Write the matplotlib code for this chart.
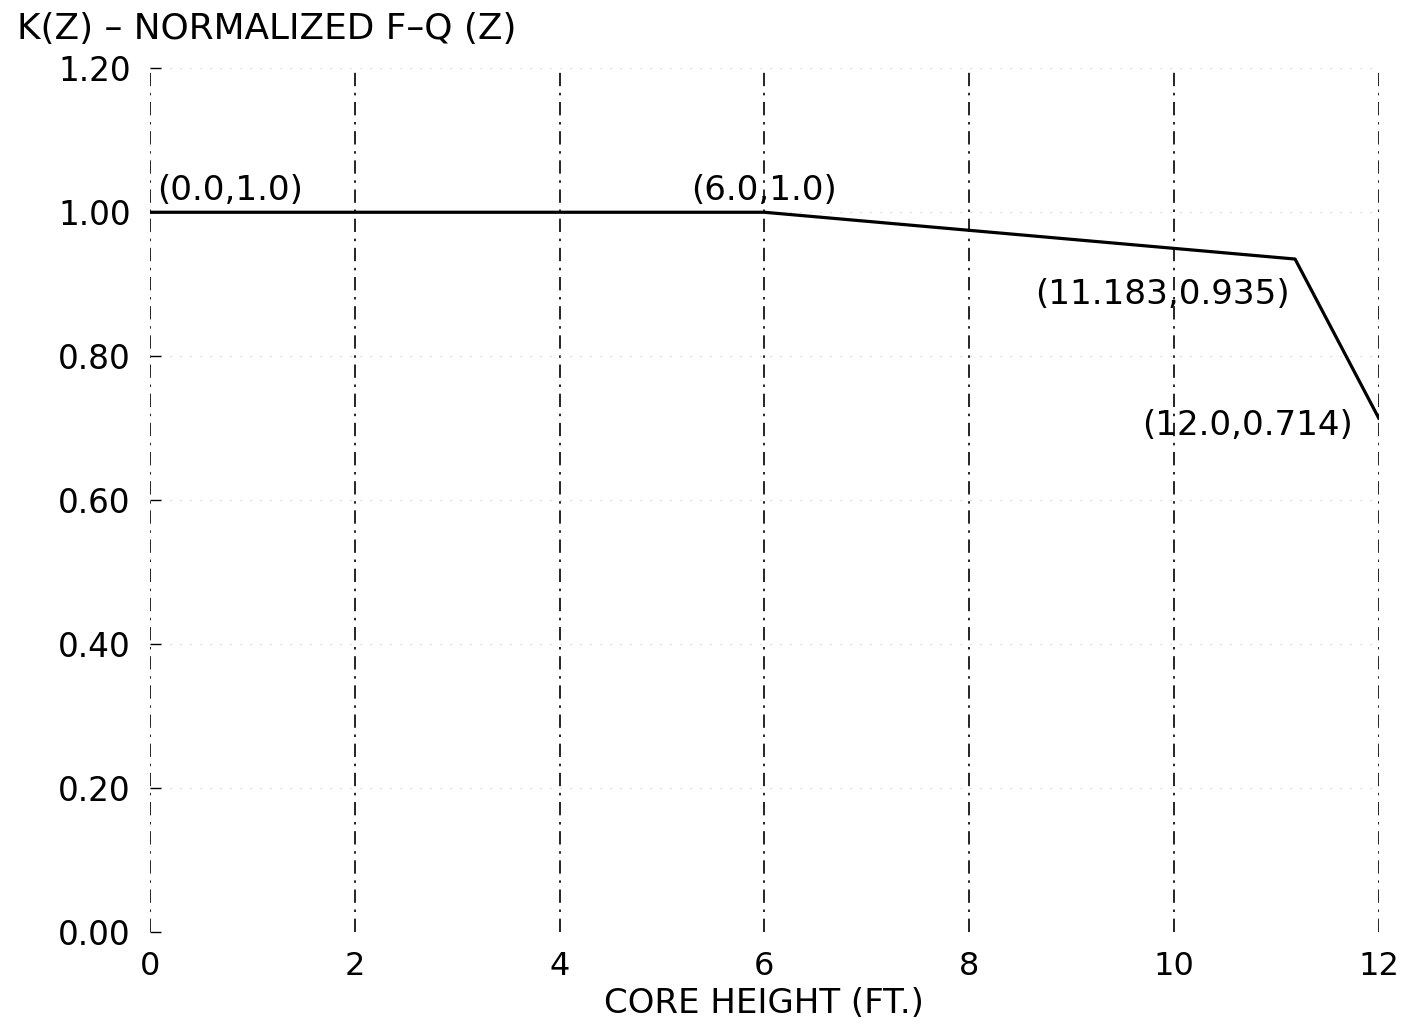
import matplotlib.pyplot as plt

# K(Z) curve breakpoints
core_height = [0.0, 6.0, 11.183, 12.0]
kz_value = [1.0, 1.0, 0.935, 0.714]
point_labels = ["(0.0,1.0)", "(6.0,1.0)", "(11.183,0.935)", "(12.0,0.714)"]

x_ticks = [0, 2, 4, 6, 8, 10, 12]
y_ticks = [0.0, 0.2, 0.4, 0.6, 0.8, 1.0, 1.2]
y_tick_labels = ["0.00", "0.20", "0.40", "0.60", "0.80", "1.00", "1.20"]

plt.rcParams['font.family'] = ['DejaVu Sans']

fig = plt.figure(figsize=(14.05, 10.35), dpi=100)
ax = fig.add_axes([0.1068, 0.0995, 0.8745, 0.8345])

ax.set_xlim(0, 12)
ax.set_ylim(0, 1.2)

# gridlines: dash-dot verticals, faint dotted horizontals
for x in x_ticks:
    ax.axvline(x, color='black', lw=1.2, ls=(0, (8, 4, 1.5, 4)), zorder=1)
for y in y_ticks[1:]:
    ax.axhline(y, color='#c8c8c8', lw=0.8, ls=(0, (1, 8)), zorder=1)

ax.plot(core_height, kz_value, color='black', lw=2.3, zorder=3)

# labels next to the breakpoints
offsets = [(7, 5), (0, 5), (-5, -19), (-26, -7)]
aligns = [('left', 'bottom'), ('center', 'bottom'), ('right', 'top'), ('right', 'center')]
for x, y, lab, off, (ha, va) in zip(core_height, kz_value, point_labels, offsets, aligns):
    ax.annotate(lab, (x, y), xytext=off, textcoords='offset pixels',
                ha=ha, va=va, fontsize=24.6)

for s in ['top', 'right', 'left', 'bottom']:
    ax.spines[s].set_visible(False)

ax.set_xticks(x_ticks)
ax.set_xticklabels([str(t) for t in x_ticks], fontsize=23)
ax.set_yticks(y_ticks)
ax.set_yticklabels(y_tick_labels, fontsize=23.5)
ax.tick_params(axis='x', length=0, pad=14)
ax.tick_params(axis='y', direction='in', length=8, width=1, pad=14)

ax.set_xlabel("CORE HEIGHT (FT.)", fontsize=24.5, labelpad=3)
fig.text(0.012, 0.988, "K(Z) \u2013 NORMALIZED F\u2013Q (Z)", fontsize=25.8,
         ha='left', va='top')

fig.savefig("out.png", dpi=100)
